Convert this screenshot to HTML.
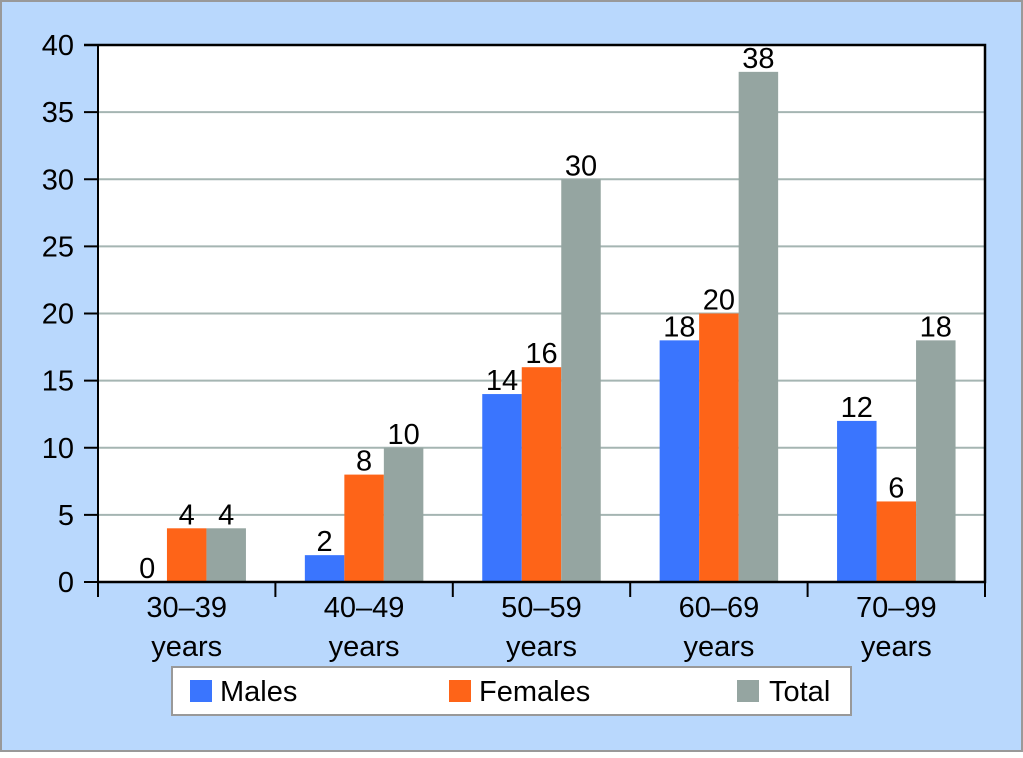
<!DOCTYPE html>
<html><head><meta charset="utf-8"><style>
body{margin:0;}
svg text{font-family:"Liberation Sans",sans-serif;fill:#000;}
</style></head><body>
<svg width="1023" height="753" xmlns="http://www.w3.org/2000/svg">
<rect x="1" y="1" width="1021" height="750" fill="#b9d8fd" stroke="#999" stroke-width="2"/>
<rect x="98" y="45" width="887" height="537" fill="#fff"/>
<g id="grid"></g><g id="bars"></g><g id="axes"></g>
<g>
<rect x="172" y="667" width="679" height="48" fill="#fff" stroke="#999" stroke-width="2"/>
<rect x="190" y="680" width="22" height="22" fill="#3a75fe"/>
<text x="220" y="701" font-size="29">Males</text>
<rect x="449" y="680" width="22" height="22" fill="#fe6418"/>
<text x="479" y="701" font-size="29">Females</text>
<rect x="737" y="680" width="22" height="22" fill="#95a5a1"/>
<text x="769" y="701" font-size="29">Total</text>
</g>
</svg>
<script>
const categories=["30–39","40–49","50–59","60–69","70–99"];
const males=[0,2,14,18,12];
const females=[4,8,16,20,6];
const total=[4,10,30,38,18];
const yTicks=[0,5,10,15,20,25,30,35,40];
const NS="http://www.w3.org/2000/svg";
const x0=98,x1=985,y0=582,y1=45,ymax=40;
const y=v=>y0-(v/ymax)*(y0-y1);
const cw=(x1-x0)/categories.length;
function mk(t,a,p){const e=document.createElementNS(NS,t);for(const k in a)e.setAttribute(k,a[k]);p.appendChild(e);return e;}
const grid=document.getElementById('grid'),bars=document.getElementById('bars'),axes=document.getElementById('axes');
yTicks.forEach(v=>{
 if(v>0&&v<ymax){const l=mk('line',{x1:x0,x2:x1,y1:y(v),y2:y(v),stroke:'#a5b5b2','stroke-width':2},grid);
 
 }
 const tk=mk('line',{x1:84,x2:x0,y1:y(v),y2:y(v),stroke:'#000','stroke-width':2},axes);
 
 
 const t=mk('text',{x:74,y:y(v)+10,'text-anchor':'end','font-size':29},axes);t.textContent=v;
 
 
});
const series=[[males,'#3a75fe','males'],[females,'#fe6418','females'],[total,'#95a5a1','total']];
const bw=39.5;
categories.forEach((c,i)=>{
 const cx=x0+cw*(i+0.5);
 series.forEach((s,j)=>{
  const v=s[0][i];const bx=cx-1.5*bw+j*bw;
  if(v>0){const r=mk('rect',{x:bx,y:y(v),width:bw,height:y0-y(v),fill:s[1]},bars);
  
  }
  const t=mk('text',{x:bx+bw/2,y:y(v)-4,'text-anchor':'middle','font-size':29},bars);t.textContent=v;
  
  
 });
 const t1=mk('text',{x:cx,y:617,'text-anchor':'middle','font-size':29},axes);t1.textContent=c;
 
 
 const t2=mk('text',{x:cx,y:656,'text-anchor':'middle','font-size':29},axes);t2.textContent='years';
 
 
});
for(let i=0;i<=categories.length;i++){const xx=x0+cw*i;
 const tk=mk('line',{x1:xx,x2:xx,y1:y0,y2:597,stroke:'#000','stroke-width':2},axes);
 
 }
const ax=mk('path',{d:`M${x0} ${y0}V${y1}`,stroke:'#000','stroke-width':2,fill:'none'},axes);


const bx=mk('path',{d:`M${x0} ${y0}H${x1}V${y1}H84`,stroke:'#000','stroke-width':2.5,fill:'none'},axes);


</script>
</body></html>
